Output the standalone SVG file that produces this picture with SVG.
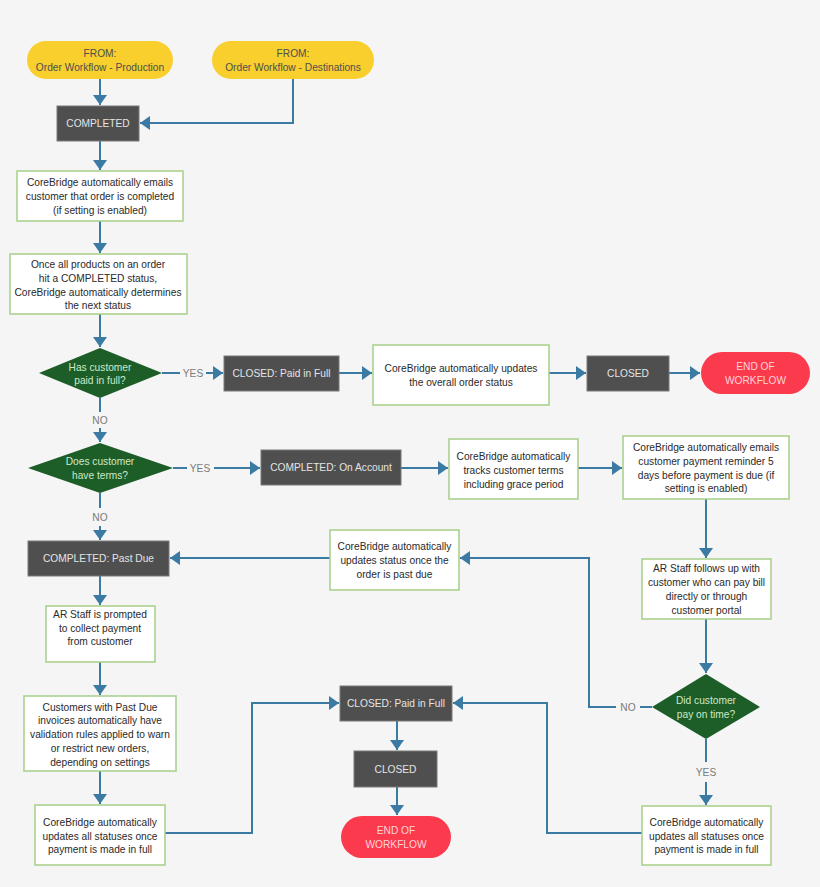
<svg xmlns="http://www.w3.org/2000/svg" width="820" height="887" viewBox="0 0 820 887">
<style>
text{font-family:"Liberation Sans",Arial,sans-serif;font-size:10.2px;text-anchor:middle;dominant-baseline:central}
.pill{fill:#f8cf2d}
.pillt{fill:#4e4e4e}
.dark{fill:#4f4f4f;stroke:#7a7a7a;stroke-width:1}
.darkt{fill:#e4e4e4}
.box{fill:#ffffff;stroke:#a6cf86;stroke-width:1.5}
.boxt{fill:#2a2a2a}
.dia{fill:#1d5e28}
.diat{fill:#cde8c8}
.end{fill:#fb3a4e}
.endt{fill:#ffd3d8}
.lbl{fill:#7a7a7a}
.c{fill:none;stroke:#3b7ba3;stroke-width:2}
</style>
<defs>
<marker id="ah" markerUnits="userSpaceOnUse" markerWidth="12" markerHeight="14" refX="10" refY="7" orient="auto">
<path d="M0,0 L10,7 L0,14 Z" fill="#3b7ba3"/>
</marker>
</defs>
<rect width="820" height="887" fill="#f5f5f5"/>

<g id="connectors">
<path class="c" d="M100,79 V105" marker-end="url(#ah)"/>
<path class="c" d="M293,79 V123 H140" marker-end="url(#ah)"/>
<path class="c" d="M100,141 V170" marker-end="url(#ah)"/>
<path class="c" d="M100,221 V253" marker-end="url(#ah)"/>
<path class="c" d="M100,314 V347" marker-end="url(#ah)"/>
<path class="c" d="M162,373 H180"/>
<path class="c" d="M206,373 H223" marker-end="url(#ah)"/>
<path class="c" d="M339,373 H372" marker-end="url(#ah)"/>
<path class="c" d="M549,373 H586" marker-end="url(#ah)"/>
<path class="c" d="M669,373 H700" marker-end="url(#ah)"/>
<path class="c" d="M100,398 V412"/>
<path class="c" d="M100,428 V442" marker-end="url(#ah)"/>
<path class="c" d="M173,468 H187"/>
<path class="c" d="M214,468 H260" marker-end="url(#ah)"/>
<path class="c" d="M401,468 H448" marker-end="url(#ah)"/>
<path class="c" d="M578,468 H622" marker-end="url(#ah)"/>
<path class="c" d="M706,499 V558" marker-end="url(#ah)"/>
<path class="c" d="M100,493 V508"/>
<path class="c" d="M100,526 V540" marker-end="url(#ah)"/>
<path class="c" d="M330,558 H170" marker-end="url(#ah)"/>
<path class="c" d="M706,619 V673" marker-end="url(#ah)"/>
<path class="c" d="M652,707 H640"/>
<path class="c" d="M616,707 H589 V558 H460" marker-end="url(#ah)"/>
<path class="c" d="M706,739 V762"/>
<path class="c" d="M706,782 V805" marker-end="url(#ah)"/>
<path class="c" d="M642,833 H547 V703 H453" marker-end="url(#ah)"/>
<path class="c" d="M100,576 V605" marker-end="url(#ah)"/>
<path class="c" d="M100,662 V695" marker-end="url(#ah)"/>
<path class="c" d="M100,771 V804" marker-end="url(#ah)"/>
<path class="c" d="M165,833 H252 V703 H339" marker-end="url(#ah)"/>
<path class="c" d="M397,721 V750" marker-end="url(#ah)"/>
<path class="c" d="M397,787 V815" marker-end="url(#ah)"/>
<text class="lbl" x="193" y="373">YES</text>
<text class="lbl" x="100" y="420">NO</text>
<text class="lbl" x="200" y="468">YES</text>
<text class="lbl" x="100" y="517">NO</text>
<text class="lbl" x="628" y="707">NO</text>
<text class="lbl" x="706" y="772">YES</text>
</g>

<g id="from-production">
<rect class="pill" x="27" y="41" width="146" height="38" rx="19"/>
<text class="pillt" x="100" y="53">FROM:</text>
<text class="pillt" x="100" y="67">Order Workflow - Production</text>
</g>
<g id="from-destinations">
<rect class="pill" x="212" y="41" width="162" height="38" rx="19"/>
<text class="pillt" x="293" y="53">FROM:</text>
<text class="pillt" x="293" y="67">Order Workflow - Destinations</text>
</g>
<g id="completed">
<rect class="dark" x="57" y="106" width="82" height="35"/>
<text class="darkt" x="98" y="123.5">COMPLETED</text>
</g>
<g id="email-completed">
<rect class="box" x="17" y="171" width="166" height="50"/>
<text class="boxt" x="100" y="182">CoreBridge automatically emails</text>
<text class="boxt" x="100" y="196">customer that order is completed</text>
<text class="boxt" x="100" y="210">(if setting is enabled)</text>
</g>
<g id="determine-status">
<rect class="box" x="10" y="254" width="177" height="60"/>
<text class="boxt" x="98" y="264">Once all products on an order</text>
<text class="boxt" x="98" y="278">hit a COMPLETED status,</text>
<text class="boxt" x="98" y="292">CoreBridge automatically determines</text>
<text class="boxt" x="98" y="305">the next status</text>
</g>
<g id="paid-in-full">
<polygon class="dia" points="100,348 162,373 100,398 39,373"/>
<text class="diat" x="100" y="367">Has customer</text>
<text class="diat" x="100" y="380">paid in full?</text>
</g>
<g id="closed-paid-1">
<rect class="dark" x="224" y="356" width="115" height="35"/>
<text class="darkt" x="281.5" y="373.5">CLOSED: Paid in Full</text>
</g>
<g id="update-overall">
<rect class="box" x="373" y="345" width="176" height="60"/>
<text class="boxt" x="461" y="368">CoreBridge automatically updates</text>
<text class="boxt" x="461" y="382">the overall order status</text>
</g>
<g id="closed-1">
<rect class="dark" x="587" y="356" width="82" height="35"/>
<text class="darkt" x="628" y="373.5">CLOSED</text>
</g>
<g id="end-1">
<rect class="end" x="701" y="352" width="109" height="42" rx="21"/>
<text class="endt" x="755.5" y="366">END OF</text>
<text class="endt" x="755.5" y="380">WORKFLOW</text>
</g>
<g id="have-terms">
<polygon class="dia" points="100,443 173,468 100,493 28,468"/>
<text class="diat" x="100" y="461">Does customer</text>
<text class="diat" x="100" y="475">have terms?</text>
</g>
<g id="on-account">
<rect class="dark" x="261" y="450" width="140" height="35"/>
<text class="darkt" x="331" y="467.5">COMPLETED: On Account</text>
</g>
<g id="track-terms">
<rect class="box" x="449" y="439" width="129" height="60"/>
<text class="boxt" x="513.5" y="456">CoreBridge automatically</text>
<text class="boxt" x="513.5" y="470">tracks customer terms</text>
<text class="boxt" x="513.5" y="484">including grace period</text>
</g>
<g id="email-reminder">
<rect class="box" x="623" y="436" width="166" height="63"/>
<text class="boxt" x="706" y="447">CoreBridge automatically emails</text>
<text class="boxt" x="706" y="461">customer payment reminder 5</text>
<text class="boxt" x="706" y="475">days before payment is due (if</text>
<text class="boxt" x="706" y="488">setting is enabled)</text>
</g>
<g id="past-due">
<rect class="dark" x="28" y="541" width="141" height="35"/>
<text class="darkt" x="98.5" y="558.5">COMPLETED: Past Due</text>
</g>
<g id="update-past-due">
<rect class="box" x="330" y="530" width="129" height="60"/>
<text class="boxt" x="394.5" y="546">CoreBridge automatically</text>
<text class="boxt" x="394.5" y="560">updates status once the</text>
<text class="boxt" x="394.5" y="574">order is past due</text>
</g>
<g id="ar-follows-up">
<rect class="box" x="642" y="559" width="129" height="60"/>
<text class="boxt" x="706.5" y="568">AR Staff follows up with</text>
<text class="boxt" x="706.5" y="582">customer who can pay bill</text>
<text class="boxt" x="706.5" y="596">directly or through</text>
<text class="boxt" x="706.5" y="610">customer portal</text>
</g>
<g id="pay-on-time">
<polygon class="dia" points="706,674 760,707 706,739 652,707"/>
<text class="diat" x="706" y="700">Did customer</text>
<text class="diat" x="706" y="714">pay on time?</text>
</g>
<g id="update-all-right">
<rect class="box" x="642" y="806" width="129" height="59"/>
<text class="boxt" x="706.5" y="822">CoreBridge automatically</text>
<text class="boxt" x="706.5" y="836">updates all statuses once</text>
<text class="boxt" x="706.5" y="849">payment is made in full</text>
</g>
<g id="ar-prompted">
<rect class="box" x="46" y="606" width="109" height="56"/>
<text class="boxt" x="100" y="614">AR Staff is prompted</text>
<text class="boxt" x="100" y="628">to collect payment</text>
<text class="boxt" x="100" y="641">from customer</text>
</g>
<g id="validation-rules">
<rect class="box" x="24" y="696" width="152" height="75"/>
<text class="boxt" x="100" y="707">Customers with Past Due</text>
<text class="boxt" x="100" y="720">invoices automatically have</text>
<text class="boxt" x="100" y="734">validation rules applied to warn</text>
<text class="boxt" x="100" y="748">or restrict new orders,</text>
<text class="boxt" x="100" y="762">depending on settings</text>
</g>
<g id="update-all-left">
<rect class="box" x="35" y="805" width="130" height="60"/>
<text class="boxt" x="100" y="822">CoreBridge automatically</text>
<text class="boxt" x="100" y="836">updates all statuses once</text>
<text class="boxt" x="100" y="849">payment is made in full</text>
</g>
<g id="closed-paid-2">
<rect class="dark" x="340" y="686" width="112" height="35"/>
<text class="darkt" x="396" y="703.5">CLOSED: Paid in Full</text>
</g>
<g id="closed-2">
<rect class="dark" x="354" y="751" width="83" height="36"/>
<text class="darkt" x="395.5" y="769">CLOSED</text>
</g>
<g id="end-2">
<rect class="end" x="341" y="816" width="110" height="42" rx="21"/>
<text class="endt" x="396" y="830">END OF</text>
<text class="endt" x="396" y="844">WORKFLOW</text>
</g>
</svg>
